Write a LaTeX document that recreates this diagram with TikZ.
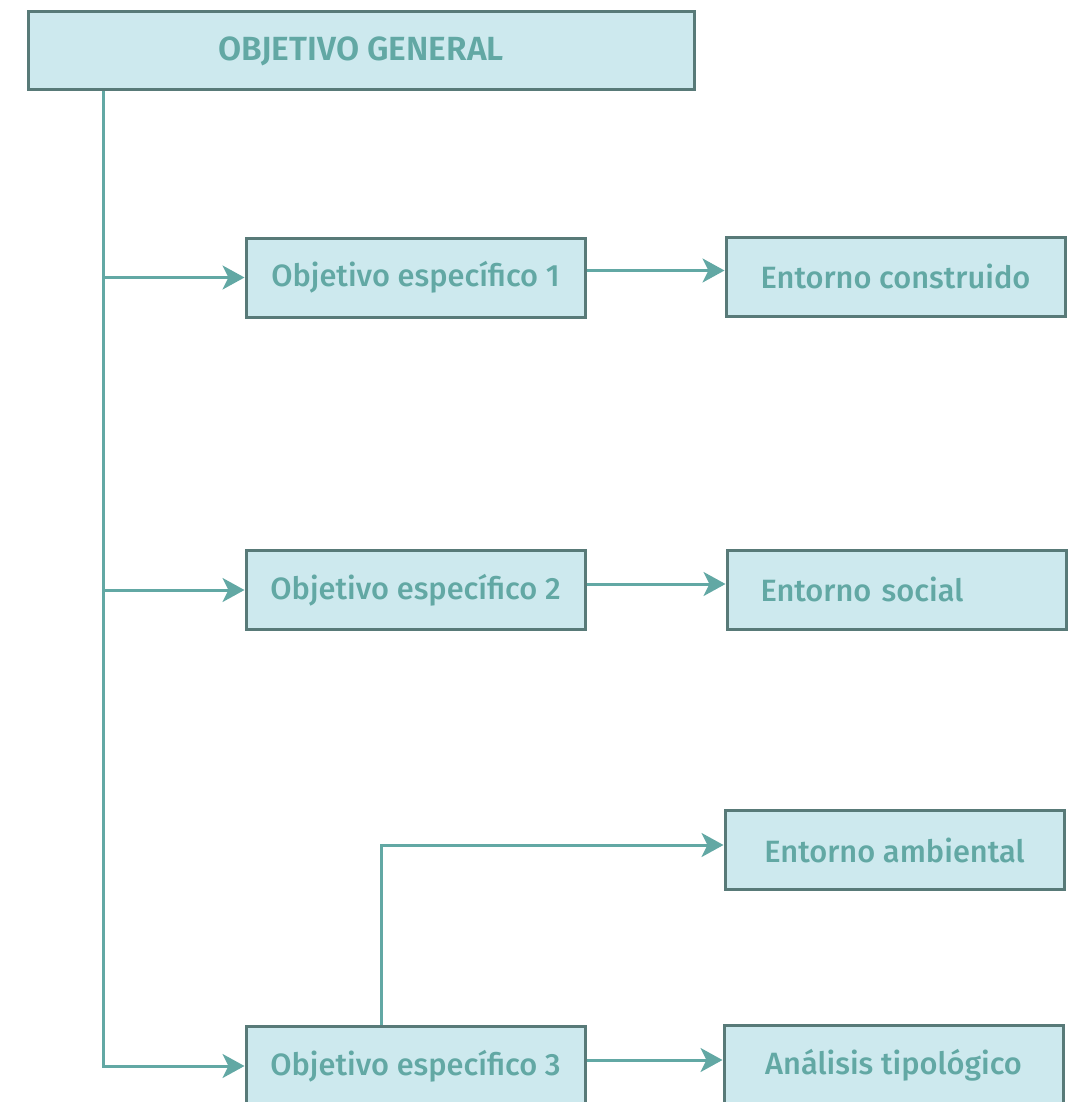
\documentclass[tikz,border=0pt]{standalone}
\usepackage{fontspec}
\setmainfont{Fira Sans}[UprightFont=* Medium, BoldFont=* SemiBold]
\usetikzlibrary{arrows.meta, positioning, calc}
\definecolor{boxfill}{HTML}{CDE9EE}
\definecolor{boxline}{HTML}{587A78}
\definecolor{tealtxt}{HTML}{62A8A4}

\begin{document}
\begin{tikzpicture}[x=1pt, y={(0pt,-1pt)}, >={Stealth[length=22pt, width=24pt, inset=6pt]},
    objbox/.style={draw=boxline, line width=3pt, fill=boxfill, text=tealtxt,
      font=\fontsize{30.8}{34}\selectfont, minimum width=339pt, minimum height=79pt, inner sep=0pt},
    link/.style={->, draw=tealtxt, line width=3pt}]
    \useasboundingbox (0,0) rectangle (1068,1102);

    % General objective
    \node[objbox, minimum width=666pt, minimum height=78pt, font=\fontsize{33.5}{36}\selectfont\bfseries] (gen) at (361, 51) {OBJETIVO GENERAL};

    % Specific objectives
    \node[objbox] (obj1) at (415.5, 277.5) {Objetivo específico 1};
    \node[objbox] (obj2) at (415.5, 590) {Objetivo específico 2};
    \node[objbox] (obj3) at (415.5, 1066) {Objetivo específico 3};

    % Results
    \node[objbox] (construido) at (895.5, 276.5) {Entorno construido};
    \node[objbox, text width=272pt, align=left] (social) at (896.5, 589.5) {Entorno social};
    \node[objbox] (ambiental) at (894.5, 850) {Entorno ambiental};
    \node[objbox] (tipologico) at (893.5, 1065) {Análisis tipológico};

    % Trunk from the general objective
    \coordinate (trunk) at (103, 0);
    \draw[link] (gen.south -| trunk) |- (obj1.west);
    \draw[link] (gen.south -| trunk) |- (obj2.west);
    \draw[link] (gen.south -| trunk) |- (obj3.west);

    % Specific -> results
    \draw[link] ([yshift=7pt]obj1.east) -- ([yshift=7pt]obj1.east -| construido.west);
    \draw[link] ([yshift=6pt]obj2.east) -- ([yshift=6pt]obj2.east -| social.west);
    \draw[link] ([yshift=6pt]obj3.east) -- ([yshift=6pt]obj3.east -| tipologico.west);
    \draw[link] ([xshift=-34.5pt]obj3.north) |- ([yshift=5pt]ambiental.west);
\end{tikzpicture}
\end{document}
